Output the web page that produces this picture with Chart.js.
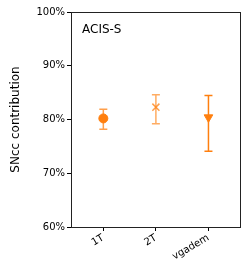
<!DOCTYPE html>
<html>
<head>
<meta charset="utf-8">
<script src="https://cdn.jsdelivr.net/npm/chart.js@4"></script>
<style>
html,body{margin:0;padding:0;background:#fff}
#wrap{width:249px;height:268px}
</style>
</head>
<body>
<div id="wrap"><canvas id="c"></canvas></div>
<script>
const categories = ["1T", "2T", "vgadem"]
const values = [80.2, 82.3, 80.4]
const errLow = [78.2, 79.2, 74.1]
const errHigh = [81.9, 84.6, 84.45]
const yTicks = [60, 70, 80, 90, 100]
const panelTitle = "ACIS-S"

const orange = "255,127,14"
const barAlpha = [0.75, 0.65, 1]

// error bars drawn under the markers
const errorBars = {
  id: "errorBars",
  beforeDatasetsDraw(chart){
    const ctx = chart.ctx
    const xs = chart.scales.x, ys = chart.scales.y
    ctx.save()
    ctx.lineWidth = 1.5
    values.forEach((v,i)=>{
      const x = xs.getPixelForValue(i)
      const y1 = ys.getPixelForValue(errLow[i])
      const y2 = ys.getPixelForValue(errHigh[i])
      ctx.strokeStyle = "rgba(" + orange + "," + barAlpha[i] + ")"
      ctx.beginPath()
      ctx.moveTo(x, y1); ctx.lineTo(x, y2)
      ctx.moveTo(x-4, y1); ctx.lineTo(x+4, y1)
      ctx.moveTo(x-4, y2); ctx.lineTo(x+4, y2)
      ctx.stroke()
    })
    ctx.restore()
  },
  afterDraw(chart){
    const ctx = chart.ctx
    const a = chart.chartArea
    ctx.save()
    ctx.strokeStyle = "#222"
    ctx.lineWidth = 1
    ctx.strokeRect(Math.round(a.left)+0.5, Math.round(a.top)+0.5, Math.round(a.right-a.left), Math.round(a.bottom-a.top))
    ctx.fillStyle = "#000"
    ctx.font = "12px 'DejaVu Sans'"
    ctx.textBaseline = "alphabetic"
    ctx.fillText(panelTitle, a.left + 11, a.top + 21)
    ctx.restore()
  }
}

new Chart(document.getElementById("c"),{
  type:"scatter",
  data:{
    datasets:[{
      data: values.map((v,i)=>({x:i, y:v})),
      pointStyle:["circle","crossRot","triangle"],
      rotation:[0,0,180],
      radius:[4.5,5,5],
      borderWidth:[1,1.5,1],
      backgroundColor:["rgba(255,127,14,1)","rgba(255,127,14,0.75)","rgba(255,127,14,1)"],
      borderColor:["rgba(255,127,14,1)","rgba(255,127,14,0.75)","rgba(255,127,14,1)"]
    }]
  },
  plugins:[errorBars],
  options:{
    responsive:true,
    maintainAspectRatio:false,
    animation:false,
    layout:{padding:{top:12, right:9, left:0, bottom:0}},
    plugins:{legend:{display:false}, tooltip:{enabled:false}},
    scales:{
      x:{
        type:"linear",
        min:-0.615,
        max:2.6,
        afterBuildTicks(s){ s.ticks = categories.map((c,i)=>({value:i})) },
        afterFit(s){ s.height = 41 },
        grid:{drawOnChartArea:false, drawTicks:true, tickLength:4, color:"#000"},
        border:{display:false},
        ticks:{
          callback:(v)=>categories[v],
          minRotation:30, maxRotation:30,
          color:"#000",
          font:{family:"DejaVu Sans", size:10},
          padding:1
        }
      },
      y:{
        min:60,
        max:100,
        afterBuildTicks(s){ s.ticks = yTicks.map(v=>({value:v})) },
        afterFit(s){ s.width = 71 },
        grid:{drawOnChartArea:false, drawTicks:true, tickLength:4, color:"#000"},
        border:{display:false},
        ticks:{
          callback:(v)=>v + "%",
          color:"#000",
          font:{family:"DejaVu Sans", size:10},
          padding:2
        },
        title:{
          display:true,
          text:"SNcc contribution",
          color:"#000",
          font:{family:"DejaVu Sans", size:12},
          padding:{top:9, bottom:0}
        }
      }
    }
  }
})
</script>
</body>
</html>
